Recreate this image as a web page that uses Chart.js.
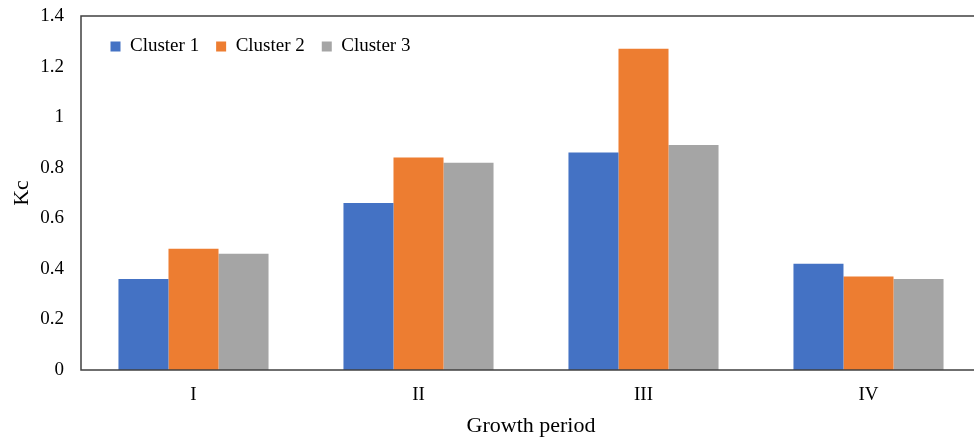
<!DOCTYPE html>
<html>
<head>
<meta charset="utf-8">
<script src="https://cdn.jsdelivr.net/npm/chart.js@4"></script>
<style>
html,body{margin:0;padding:0;background:#fff;overflow:hidden;}
#wrap{width:981px;height:441px;position:relative;}
</style>
</head>
<body>
<div id="wrap"><canvas id="c"></canvas></div>
<script>
const categories = ["I", "II", "III", "IV"];
const cluster1 = [0.36, 0.66, 0.86, 0.42];
const cluster2 = [0.48, 0.84, 1.27, 0.37];
const cluster3 = [0.46, 0.82, 0.89, 0.36];
const seriesNames = ["Cluster 1", "Cluster 2", "Cluster 3"];
const yTicks = [0, 0.2, 0.4, 0.6, 0.8, 1, 1.2, 1.4];

const FONT = "'Liberation Serif', 'Times New Roman', serif";

const frame = {
  id: 'frame',
  afterInit(chart) {
    const lg = chart.legend;
    if (lg && !lg._wrapped) {
      const orig = lg.fit.bind(lg);
      lg.fit = function () { orig(); this.height = 0; };
      lg._wrapped = true;
    }
  },
  afterLayout(chart) {
    const lg = chart.legend, a = chart.chartArea;
    if (lg) {
      lg.left = a.left + 12.5;
      lg.top = a.top + 4;
      lg.right = a.right;
      lg.bottom = lg.top + 50;
      lg.width = lg.right - lg.left;
      lg.height = 50;
    }
  },
  afterDatasetsDraw(chart) {
    const a = chart.chartArea, ctx = chart.ctx;
    ctx.save();
    ctx.strokeStyle = '#404040';
    ctx.lineWidth = 1.5;
    ctx.beginPath();
    ctx.moveTo(a.right + 5, a.top);
    ctx.lineTo(a.left, a.top);
    ctx.lineTo(a.left, a.bottom);
    ctx.lineTo(a.right + 5, a.bottom);
    ctx.stroke();
    ctx.restore();
  }
};

new Chart(document.getElementById('c'), {
  type: 'bar',
  data: {
    labels: categories,
    datasets: [
      { label: seriesNames[0], data: cluster1, backgroundColor: '#4472C4' },
      { label: seriesNames[1], data: cluster2, backgroundColor: '#ED7D31' },
      { label: seriesNames[2], data: cluster3, backgroundColor: '#A5A5A5' }
    ]
  },
  options: {
    responsive: true,
    maintainAspectRatio: false,
    animation: false,
    layout: { padding: { left: 0, top: 16, right: 0, bottom: 2 } },
    datasets: { bar: { categoryPercentage: 0.667, barPercentage: 1.0 } },
    plugins: {
      tooltip: { enabled: false },
      legend: {
        position: 'top',
        align: 'start',
        labels: {
          boxWidth: 10, boxHeight: 10, padding: 17,
          color: '#000',
          font: { family: FONT, size: 19 }
        }
      }
    },
    scales: {
      x: {
        afterFit(axis) { axis.height = 69; axis.paddingLeft = 0; axis.paddingRight = 0; },
        grid: { display: false, drawTicks: false },
        border: { display: false },
        ticks: { color: '#000', padding: 14, font: { family: FONT, size: 19 } },
        title: { display: true, text: 'Growth period', color: '#000', padding: { top: 4, bottom: 0 }, font: { family: FONT, size: 22 } }
      },
      y: {
        min: 0, max: 1.4,
        afterFit(axis) { axis.width = 81; axis.paddingTop = 0; axis.paddingBottom = 0; },
        afterBuildTicks(axis) { axis.ticks = yTicks.map(v => ({ value: v })); },
        grid: { display: false, drawTicks: false },
        border: { display: false },
        ticks: { color: '#000', padding: 17, font: { family: FONT, size: 19 },
                 callback: v => String(Math.round(v * 10) / 10) },
        title: { display: true, text: 'Kc', color: '#000', padding: { top: 9, bottom: 0 }, font: { family: FONT, size: 22 } }
      }
    }
  },
  plugins: [frame]
});
</script>
</body>
</html>
